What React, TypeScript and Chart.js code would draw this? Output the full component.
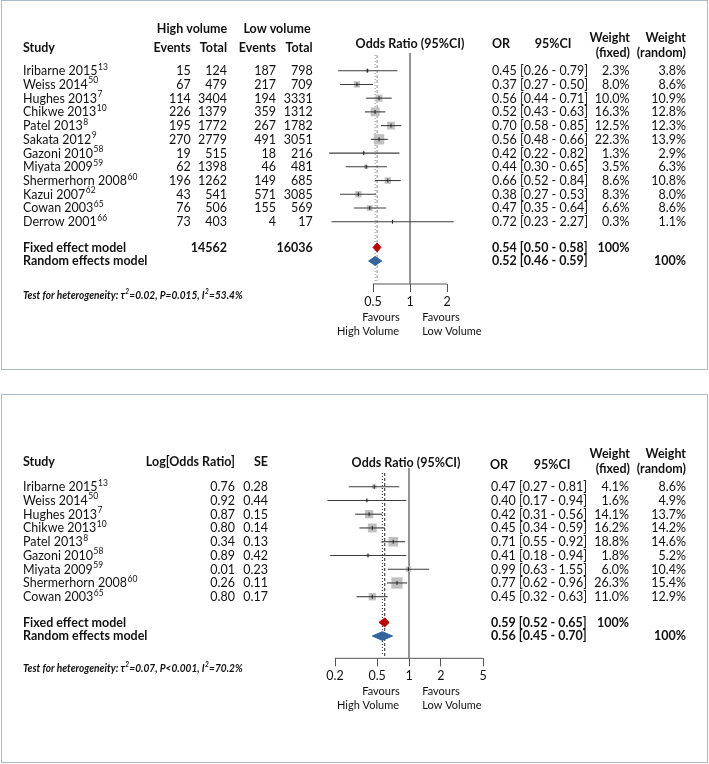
import React, { useEffect, useRef } from 'react';
import { Chart, registerables } from 'chart.js';

Chart.register(...registerables);

// ================= Panel A (events data) =================
const A_STUDIES = ['Iribarne 2015', 'Weiss 2014', 'Hughes 2013', 'Chikwe 2013', 'Patel 2013', 'Sakata 2012', 'Gazoni 2010', 'Miyata 2009', 'Shermerhorn 2008', 'Kazui 2007', 'Cowan 2003', 'Derrow 2001'];
const A_REFS = ['13', '50', '7', '10', '8', '9', '58', '59', '60', '62', '65', '66'];
const A_HV_EVENTS = [15, 67, 114, 226, 195, 270, 19, 62, 196, 43, 76, 73];
const A_HV_TOTAL = [124, 479, 3404, 1379, 1772, 2779, 515, 1398, 1262, 541, 506, 403];
const A_LV_EVENTS = [187, 217, 194, 359, 267, 491, 18, 46, 149, 571, 155, 4];
const A_LV_TOTAL = [798, 709, 3331, 1312, 1782, 3051, 216, 481, 685, 3085, 569, 17];
const A_OR = [0.45, 0.37, 0.56, 0.52, 0.70, 0.56, 0.42, 0.44, 0.66, 0.38, 0.47, 0.72];
const A_LO = [0.26, 0.27, 0.44, 0.43, 0.58, 0.48, 0.22, 0.30, 0.52, 0.27, 0.35, 0.23];
const A_HI = [0.79, 0.50, 0.71, 0.63, 0.85, 0.66, 0.82, 0.65, 0.84, 0.53, 0.64, 2.27];
const A_W_FIXED = [2.3, 8.0, 10.0, 16.3, 12.5, 22.3, 1.3, 3.5, 8.6, 8.3, 6.6, 0.3];
const A_W_RANDOM = [3.8, 8.6, 10.9, 12.8, 12.3, 13.9, 2.9, 6.3, 10.8, 8.0, 8.6, 1.1];
const A_FIXED = [0.54, 0.50, 0.58];
const A_RANDOM = [0.52, 0.46, 0.59];
const A_TOTALS = [14562, 16036];
const A_TICKS = [0.5, 1, 2];
const A_TICK_LABELS = ['0.5', '1', '2'];
const A_HET = 'Test for heterogeneity: τ²=0.02, P=0.015, I²=53.4%';

// ================= Panel B (log OR data) =================
const B_STUDIES = ['Iribarne 2015', 'Weiss 2014', 'Hughes 2013', 'Chikwe 2013', 'Patel 2013', 'Gazoni 2010', 'Miyata 2009', 'Shermerhorn 2008', 'Cowan 2003'];
const B_REFS = ['13', '50', '7', '10', '8', '58', '59', '60', '65'];
const B_LOG_OR = [0.76, 0.92, 0.87, 0.80, 0.34, 0.89, 0.01, 0.26, 0.80];
const B_SE = [0.28, 0.44, 0.15, 0.14, 0.13, 0.42, 0.23, 0.11, 0.17];
const B_OR = [0.47, 0.40, 0.42, 0.45, 0.71, 0.41, 0.99, 0.77, 0.45];
const B_LO = [0.27, 0.17, 0.31, 0.34, 0.55, 0.18, 0.63, 0.62, 0.32];
const B_HI = [0.81, 0.94, 0.56, 0.59, 0.92, 0.94, 1.55, 0.96, 0.63];
const B_W_FIXED = [4.1, 1.6, 14.1, 16.2, 18.8, 1.8, 6.0, 26.3, 11.0];
const B_W_RANDOM = [8.6, 4.9, 13.7, 14.2, 14.6, 5.2, 10.4, 15.4, 12.9];
const B_FIXED = [0.59, 0.52, 0.65];
const B_RANDOM = [0.56, 0.45, 0.70];
const B_TICKS = [0.2, 0.5, 1, 2, 5];
const B_TICK_LABELS = ['0.2', '0.5', '1', '2', '5'];
const B_HET = 'Test for heterogeneity: τ²=0.07, P<0.001, I²=70.2%';

const FAMILY = 'Lato, "Open Sans", sans-serif';
const FS = 12.5;
const VS = 1.1; // vertical stretch of glyphs, as in the reference
const TEXT = '#111';
const W = 709;

type Col = { vals: string[]; x: number; align: CanvasTextAlign };
type Hdr = { t: string; x: number; y: number; align: CanvasTextAlign };

function font(size: number, bold = false, italic = false) {
  return `${italic ? 'italic ' : ''}${bold ? 'bold ' : ''}${size}px ${FAMILY}`;
}

function txt(ctx: CanvasRenderingContext2D, s: string, x: number, y: number, align: CanvasTextAlign, f: string) {
  ctx.save();
  ctx.font = f;
  ctx.textAlign = align;
  ctx.textBaseline = 'middle';
  ctx.fillStyle = TEXT;
  ctx.translate(x, y);
  ctx.scale(1, VS);
  ctx.fillText(s, 0, 0);
  ctx.restore();
}

function width(ctx: CanvasRenderingContext2D, s: string, f: string) {
  ctx.font = f;
  return ctx.measureText(s).width;
}

function supText(ctx: CanvasRenderingContext2D, s: string, x: number, y: number, size: number, bold: boolean, italic: boolean) {
  const parts = s.split('²');
  let cx = x;
  parts.forEach((p, i) => {
    txt(ctx, p, cx, y, 'left', font(size, bold, italic));
    cx += width(ctx, p, font(size, bold, italic));
    if (i < parts.length - 1) {
      txt(ctx, '2', cx + 0.3, y - 3.5, 'left', font(size * 0.65, bold, italic));
      cx += width(ctx, '2', font(size * 0.65, bold, italic)) + 0.6;
    }
  });
}

function buildChart(canvas: HTMLCanvasElement, p: any) {
  const n = p.or.length;
  const H = p.height;
  const top = p.canvasTop;
  const ry = (py: number) => (py - p.row0) / p.rowH;
  const yMin = ry(p.lineTop);
  const yMax = ry(p.axisY);
  const fixIdx = n + 0.87;
  const ranIdx = n + 1.86;
  const dTop = ry(p.dotTop);
  const dBot = ry(p.dotBottom);
  const AXIS_H = 26;
  const dh = 0.32;
  const tMin = p.ticks[0];
  const tMax = p.ticks[p.ticks.length - 1];
  // pixels per decade, so the plotting area can extend beyond the drawn axis
  const k = (p.xRight - p.xLeft) / Math.log10(tMax / tMin);
  const areaLeft = p.xLeft - k * Math.log10(tMin / p.areaMin);
  const areaRight = p.xRight + k * Math.log10(p.areaMax / tMax);

  const datasets: any[] = [];
  // axis baseline spanning first to last tick
  datasets.push({ type: 'line', data: [{ x: tMin, y: yMax }, { x: tMax, y: yMax }], borderColor: '#555', borderWidth: 1, pointRadius: 0, order: 95, clip: false });
  datasets.push({ type: 'line', data: [{ x: 1, y: yMin }, { x: 1, y: yMax }], borderColor: '#7a7a7a', borderWidth: 1.6, pointRadius: 0, order: 90, clip: false });
  datasets.push({ type: 'line', data: [{ x: p.fixed[0], y: dTop }, { x: p.fixed[0], y: dBot }], borderColor: p.refColor, borderWidth: 1, borderDash: [3, 2], pointRadius: 0, order: 85, clip: false });
  datasets.push({ type: 'line', data: [{ x: p.random[0], y: dTop }, { x: p.random[0], y: dBot }], borderColor: p.refColor, borderWidth: 1, borderDash: [1, 2], pointRadius: 0, order: 84, clip: false });
  datasets.push({
    type: 'scatter',
    data: p.or.map((v: number, i: number) => ({ x: v, y: i })),
    pointStyle: 'rect',
    pointRadius: p.wFixed.map((w: number) => (2.2 * Math.sqrt(w)) / Math.SQRT2),
    backgroundColor: '#c0c0c0',
    borderWidth: 0,
    order: 60,
    clip: false,
  });
  p.or.forEach((_: number, i: number) => {
    datasets.push({ type: 'line', data: [{ x: p.lo[i], y: i }, { x: p.hi[i], y: i }], borderColor: '#3c3c3c', borderWidth: 1.1, pointRadius: 0, order: 40, clip: false });
  });
  datasets.push({
    type: 'scatter',
    data: p.or.map((v: number, i: number) => ({ x: v, y: i })),
    pointStyle: 'line',
    rotation: 90,
    pointRadius: 2,
    borderColor: '#222',
    borderWidth: 1,
    order: 30,
    clip: false,
  });
  const diamond = (d: number[], y: number, color: string) => ({
    type: 'line',
    data: [{ x: d[1], y }, { x: d[0], y: y - dh }, { x: d[2], y }, { x: d[0], y: y + dh }, { x: d[1], y }],
    borderColor: color,
    backgroundColor: color,
    borderWidth: 1,
    fill: 'shape',
    pointRadius: 0,
    order: 10,
    clip: false,
  });
  datasets.push(diamond(p.fixed, fixIdx, '#c00000'));
  datasets.push(diamond(p.random, ranIdx, '#3464a0'));

  const textPlugin = {
    id: 'forestText',
    afterDraw(chart: any) {
      const ctx: CanvasRenderingContext2D = chart.ctx;
      const ys = chart.scales.y;
      ctx.save();
      p.headers.forEach((h: Hdr) => txt(ctx, h.t, h.x, h.y - top, h.align, font(FS, true)));
      for (let i = 0; i < n; i++) {
        const y = ys.getPixelForValue(i);
        txt(ctx, p.studies[i], 23, y, 'left', font(FS));
        const w = width(ctx, p.studies[i], font(FS));
        txt(ctx, p.refs[i], 23 + w + 0.5, y - 4, 'left', font(8.5));
        p.cols.forEach((c: Col) => txt(ctx, c.vals[i], c.x, y, c.align, font(FS)));
        const orS = p.or[i].toFixed(2) + ' ';
        txt(ctx, orS, p.xOR, y, 'left', font(FS));
        txt(ctx, `[${p.lo[i].toFixed(2)} - ${p.hi[i].toFixed(2)}]`, p.xOR + width(ctx, orS, font(FS)), y, 'left', font(FS));
      }
      const yf = ys.getPixelForValue(fixIdx);
      const yr = ys.getPixelForValue(ranIdx);
      txt(ctx, 'Fixed effect model', 23, yf, 'left', font(FS, true));
      txt(ctx, 'Random effects model', 23, yr, 'left', font(FS, true));
      p.modelExtra.forEach((c: any) => txt(ctx, c.t, c.x, yf, c.align, font(FS, true)));
      const model = (d: number[], y: number, wx: number) => {
        const o = d[0].toFixed(2) + ' ';
        txt(ctx, o, p.xOR, y, 'left', font(FS, true));
        txt(ctx, `[${d[1].toFixed(2)} - ${d[2].toFixed(2)}]`, p.xOR + width(ctx, o, font(FS, true)), y, 'left', font(FS, true));
        txt(ctx, '100%', wx, y, 'right', font(FS, true));
      };
      model(p.fixed, yf, p.xWF);
      model(p.random, yr, p.xWR);
      supText(ctx, p.het, 23, p.hetY - top, 10.1, true, true);
      const fy = p.axisY - top;
      txt(ctx, 'Favours', 381, fy + 33, 'center', font(11));
      txt(ctx, 'High Volume', 368, fy + 47, 'center', font(11));
      txt(ctx, 'Favours', 441, fy + 33, 'center', font(11));
      txt(ctx, 'Low Volume', 452, fy + 47, 'center', font(11));
      ctx.restore();
    },
  };

  return new Chart(canvas, {
    type: 'scatter',
    data: { datasets },
    options: {
      animation: false,
      responsive: false,
      events: [],
      layout: {
        padding: {
          left: areaLeft,
          right: W - areaRight,
          top: p.lineTop - top,
          bottom: H - (p.axisY - top) - AXIS_H,
        },
      },
      plugins: { legend: { display: false }, tooltip: { enabled: false } },
      scales: {
        x: {
          type: 'logarithmic',
          min: p.areaMin,
          max: p.areaMax,
          bounds: 'data',
          afterBuildTicks: (s: any) => {
            s.ticks = p.ticks.map((v: number) => ({ value: v }));
          },
          afterFit: (s: any) => {
            s.height = AXIS_H;
          },
          grid: { drawOnChartArea: false, drawTicks: true, tickLength: 8, color: '#555', lineWidth: 1 },
          border: { display: false },
          ticks: {
            callback: (_v: any, i: number) => p.tickLabels[i],
            font: { family: FAMILY, size: 12.5 },
            color: TEXT,
            padding: 2,
            maxRotation: 0,
            autoSkip: false,
          },
        },
        y: { type: 'linear', min: yMin, max: yMax, reverse: true, display: false },
      },
    },
    plugins: [textPlugin],
  } as any);
}

const pct = (w: number) => `${w.toFixed(1)}%`;

const PANEL_A = {
  canvasTop: 0,
  height: 372,
  row0: 70.7,
  rowH: 13.73,
  lineTop: 53,
  axisY: 284,
  dotTop: 55,
  dotBottom: 281,
  xLeft: 373,
  xRight: 447,
  areaMin: 0.2,
  areaMax: 5,
  refColor: '#8c8c8c',
  ticks: A_TICKS,
  tickLabels: A_TICK_LABELS,
  or: A_OR,
  lo: A_LO,
  hi: A_HI,
  wFixed: A_W_FIXED,
  fixed: A_FIXED,
  random: A_RANDOM,
  studies: A_STUDIES,
  refs: A_REFS,
  het: A_HET,
  hetY: 295,
  xOR: 492,
  xWF: 629.5,
  xWR: 686,
  headers: [
    { t: 'High volume', x: 192, y: 29, align: 'center' },
    { t: 'Low volume', x: 277, y: 29, align: 'center' },
    { t: 'Study', x: 23, y: 48, align: 'left' },
    { t: 'Events', x: 190.7, y: 48, align: 'right' },
    { t: 'Total', x: 227, y: 48, align: 'right' },
    { t: 'Events', x: 276, y: 48, align: 'right' },
    { t: 'Total', x: 312.7, y: 48, align: 'right' },
    { t: 'Odds Ratio (95%CI)', x: 410, y: 44, align: 'center' },
    { t: 'OR', x: 501, y: 44, align: 'center' },
    { t: '95%CI', x: 553, y: 44, align: 'center' },
    { t: 'Weight', x: 630, y: 38, align: 'right' },
    { t: '(fixed)', x: 630, y: 53, align: 'right' },
    { t: 'Weight', x: 686, y: 38, align: 'right' },
    { t: '(random)', x: 686, y: 53, align: 'right' },
  ],
  cols: [
    { vals: A_HV_EVENTS.map(String), x: 190.7, align: 'right' },
    { vals: A_HV_TOTAL.map(String), x: 227, align: 'right' },
    { vals: A_LV_EVENTS.map(String), x: 276, align: 'right' },
    { vals: A_LV_TOTAL.map(String), x: 312.7, align: 'right' },
    { vals: A_W_FIXED.map(pct), x: 629.5, align: 'right' },
    { vals: A_W_RANDOM.map(pct), x: 686, align: 'right' },
  ],
  modelExtra: [
    { t: String(A_TOTALS[0]), x: 227, align: 'right' },
    { t: String(A_TOTALS[1]), x: 312.7, align: 'right' },
  ],
};

const PANEL_B = {
  canvasTop: 392,
  height: 372,
  row0: 486.7,
  rowH: 13.75,
  lineTop: 468,
  axisY: 658.3,
  dotTop: 473,
  dotBottom: 656,
  xLeft: 335,
  xRight: 483,
  areaMin: 0.1,
  areaMax: 10,
  refColor: '#222',
  ticks: B_TICKS,
  tickLabels: B_TICK_LABELS,
  or: B_OR,
  lo: B_LO,
  hi: B_HI,
  wFixed: B_W_FIXED,
  fixed: B_FIXED,
  random: B_RANDOM,
  studies: B_STUDIES,
  refs: B_REFS,
  het: B_HET,
  hetY: 668,
  xOR: 491,
  xWF: 629,
  xWR: 686,
  headers: [
    { t: 'Study', x: 23, y: 462, align: 'left' },
    { t: 'Log[Odds Ratio]', x: 235, y: 462, align: 'right' },
    { t: 'SE', x: 268, y: 462, align: 'right' },
    { t: 'Odds Ratio (95%CI)', x: 406, y: 463, align: 'center' },
    { t: 'OR', x: 499, y: 465, align: 'center' },
    { t: '95%CI', x: 552, y: 465, align: 'center' },
    { t: 'Weight', x: 630, y: 454, align: 'right' },
    { t: '(fixed)', x: 630, y: 469, align: 'right' },
    { t: 'Weight', x: 686, y: 454, align: 'right' },
    { t: '(random)', x: 686, y: 469, align: 'right' },
  ],
  cols: [
    { vals: B_LOG_OR.map((v) => v.toFixed(2)), x: 235, align: 'right' },
    { vals: B_SE.map((v) => v.toFixed(2)), x: 268, align: 'right' },
    { vals: B_W_FIXED.map(pct), x: 629, align: 'right' },
    { vals: B_W_RANDOM.map(pct), x: 686, align: 'right' },
  ],
  modelExtra: [],
};

function ForestPanel({ cfg }: { cfg: any }) {
  const ref = useRef<HTMLCanvasElement>(null);
  useEffect(() => {
    const chart = buildChart(ref.current as HTMLCanvasElement, cfg);
    return () => chart.destroy();
  }, [cfg]);
  return (
    <canvas
      ref={ref}
      width={W}
      height={cfg.height}
      style={{ position: 'absolute', left: 0, top: cfg.canvasTop, width: W, height: cfg.height, display: 'block' }}
    />
  );
}

export default function App() {
  const border = '1px solid #a9b8ca';
  return (
    <div style={{ position: 'absolute', left: 0, top: 0, width: W, height: 764, background: '#fff', overflow: 'hidden' }}>
      <div style={{ position: 'absolute', left: 1, top: 0, width: 707, height: 370, border, boxSizing: 'border-box' }} />
      <div style={{ position: 'absolute', left: 1, top: 394, width: 707, height: 369, border, boxSizing: 'border-box' }} />
      <ForestPanel cfg={PANEL_A} />
      <ForestPanel cfg={PANEL_B} />
    </div>
  );
}
